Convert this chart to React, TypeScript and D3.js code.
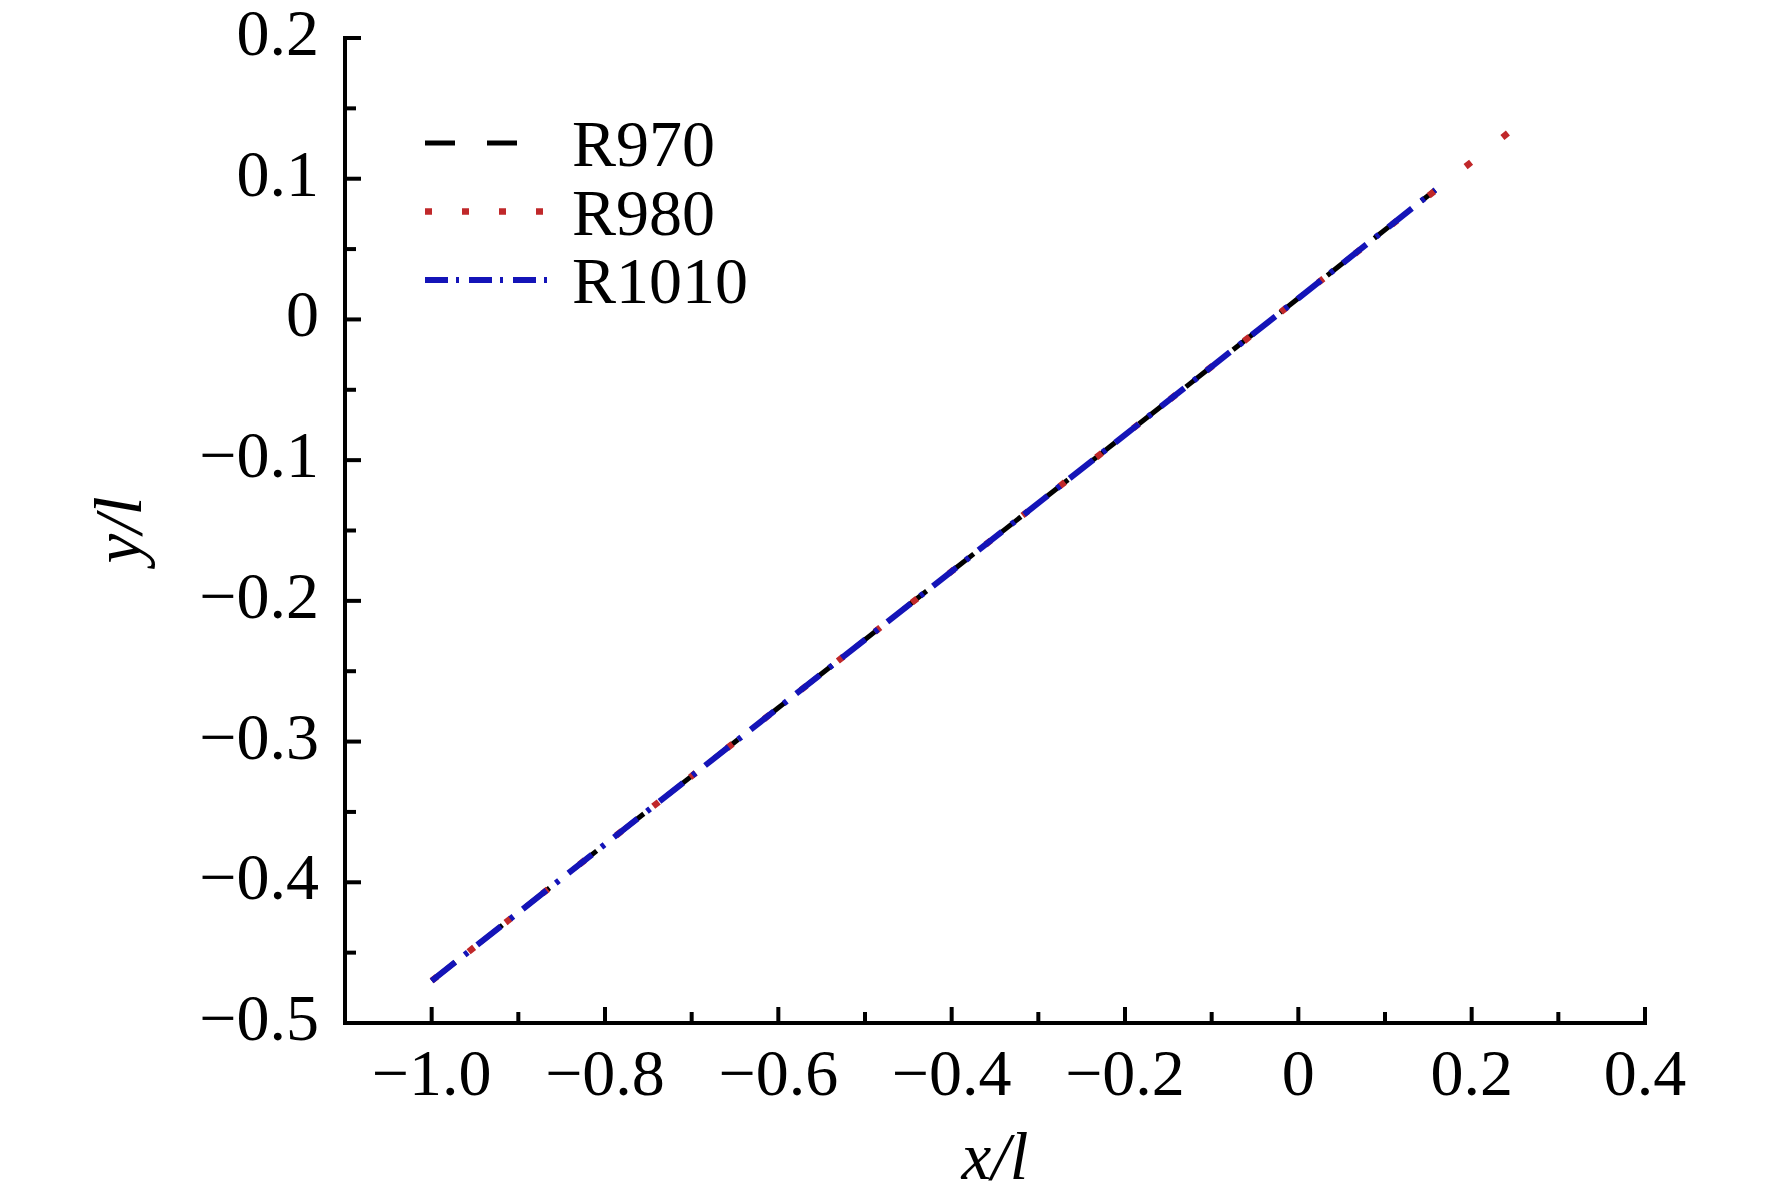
import * as d3 from 'd3';

// values
const r970X = [-1.0, -0.8, -0.6, -0.4, -0.2, 0, 0.158];
const r970Y = [-0.47, -0.373, -0.276, -0.179, -0.082, 0.015, 0.092];
const r980X = [-1.0, -0.8, -0.6, -0.4, -0.2, 0, 0.2, 0.245];
const r980Y = [-0.47, -0.373, -0.276, -0.179, -0.082, 0.015, 0.112, 0.134];
const r1010X = [-1.0, -0.8, -0.6, -0.4, -0.2, 0, 0.158];
const r1010Y = [-0.47, -0.373, -0.276, -0.179, -0.082, 0.015, 0.092];

const xTicks = [-1.0, -0.8, -0.6, -0.4, -0.2, 0, 0.2, 0.4];
const xTickLabels = ['−1.0', '−0.8', '−0.6', '−0.4', '−0.2', '0', '0.2', '0.4'];
const xMinor = [-0.9, -0.7, -0.5, -0.3, -0.1, 0.1, 0.3];
const yTicks = [0.2, 0.1, 0, -0.1, -0.2, -0.3, -0.4, -0.5];
const yTickLabels = ['0.2', '0.1', '0', '−0.1', '−0.2', '−0.3', '−0.4', '−0.5'];
const yMinor = [0.15, 0.05, -0.05, -0.15, -0.25, -0.35, -0.45];

const seriesNames = ['R970', 'R980', 'R1010'];

const W = 1772;
const H = 1199;
const FONT = '"Liberation Serif", "Times New Roman", serif';

const x = d3.scaleLinear().domain([-1.1, 0.4]).range([345, 1645]);
const y = d3.scaleLinear().domain([-0.5, 0.2]).range([1023, 38]);

const line = d3
  .line<[number, number]>()
  .x((d) => x(d[0]))
  .y((d) => y(d[1]));

const zip = (xs: number[], ys: number[]) => xs.map((v, i) => [v, ys[i]] as [number, number]);

const series = [
  {name: seriesNames[0], data: zip(r970X, r970Y), color: '#000000', width: 5, dash: '30 30', legendDash: '30 32'},
  {name: seriesNames[1], data: zip(r980X, r980Y), color: '#c0282a', width: 6.5, dash: '7 40', legendDash: '7 30'},
  {name: seriesNames[2], data: zip(r1010X, r1010Y), color: '#1414b8', width: 6, dash: '30 12 4 12', legendDash: '23 8 3 10'},
];

export default function App() {
  const x0 = x.range()[0];
  const x1 = x.range()[1];
  const yBottom = y.range()[0];
  const yTop = y.range()[1];

  return (
    <svg
      width={W}
      height={H}
      style={{position: 'absolute', left: 0, top: 0, background: '#fff'}}
      fontFamily={FONT}
    >
      <rect width={W} height={H} fill="#fff" />

      {/* data lines */}
      {series.map((s) => (
        <path
          key={s.name}
          d={line(s.data) ?? ''}
          fill="none"
          stroke={s.color}
          strokeWidth={s.width}
          strokeDasharray={s.dash}
        />
      ))}

      {/* axes */}
      <g stroke="#000" strokeWidth={4}>
        <line x1={x0} x2={x0} y1={yTop - 2} y2={yBottom + 2} />
        <line x1={x0 - 2} x2={x1 + 2} y1={yBottom} y2={yBottom} />
        {yTicks.map((t) => (
          <line key={'yt' + t} x1={x0} x2={x0 + 16} y1={y(t)} y2={y(t)} />
        ))}
        {yMinor.map((t) => (
          <line key={'ym' + t} x1={x0} x2={x0 + 11} y1={y(t)} y2={y(t)} />
        ))}
        {xTicks.map((t) => (
          <line key={'xt' + t} x1={x(t)} x2={x(t)} y1={yBottom} y2={yBottom - 16} />
        ))}
        {xMinor.map((t) => (
          <line key={'xm' + t} x1={x(t)} x2={x(t)} y1={yBottom} y2={yBottom - 11} />
        ))}
      </g>

      {/* tick labels */}
      <g fontSize={66} fill="#000">
        {yTicks.map((t, i) => (
          <text key={'yl' + t} x={x0 - 26} y={y(t) + 17} textAnchor="end">
            {yTickLabels[i]}
          </text>
        ))}
        {xTicks.map((t, i) => (
          <text key={'xl' + t} x={x(t)} y={yBottom + 72} textAnchor="middle">
            {xTickLabels[i]}
          </text>
        ))}
      </g>

      {/* axis titles */}
      <text x={(x0 + x1) / 2} y={1179} fontSize={67} fontStyle="italic" textAnchor="middle">
        x/l
      </text>
      <text
        transform="translate(141,530) rotate(-90)"
        fontSize={67}
        fontStyle="italic"
        textAnchor="middle"
      >
        y/l
      </text>

      {/* legend */}
      <g>
        {series.map((s, i) => {
          const ly = 143 + i * 68.5;
          return (
            <g key={'lg' + s.name}>
              <line
                x1={425}
                x2={547}
                y1={ly}
                y2={ly}
                stroke={s.color}
                strokeWidth={s.width}
                strokeDasharray={s.legendDash}
              />
              <text x={572} y={ly + 23} fontSize={66}>
                {s.name}
              </text>
            </g>
          );
        })}
      </g>
    </svg>
  );
}
